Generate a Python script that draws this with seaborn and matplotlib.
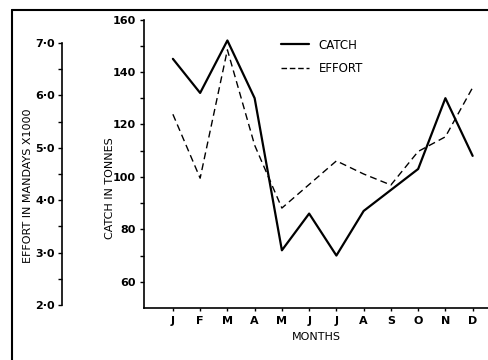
import matplotlib
matplotlib.use("Agg")
import matplotlib.pyplot as plt
from matplotlib.lines import Line2D
import seaborn as sns
import pandas as pd
import numpy as np

months = ["J", "F", "M", "A", "M", "J", "J", "A", "S", "O", "N", "D"]
catch = [145, 132, 152, 130, 72, 86, 70, 87, 95, 103, 130, 108]
effort = [5.64, 4.42, 6.87, 5.05, 3.85, 4.3, 4.75, 4.5, 4.29, 4.93, 5.21, 6.15]
catch_ticks = [60, 80, 100, 120, 140, 160]
effort_ticks = [2.0, 3.0, 4.0, 5.0, 6.0, 7.0]

sns.set_style("ticks")
plt.rcParams["font.family"] = ["DejaVu Sans"]
plt.rcParams["font.weight"] = "bold"
plt.rcParams["text.color"] = "black"
plt.rcParams["axes.labelcolor"] = "black"
plt.rcParams["xtick.color"] = "black"
plt.rcParams["ytick.color"] = "black"
plt.rcParams["axes.edgecolor"] = "black"

W, H = 489, 360
fig = plt.figure(figsize=(W / 100, H / 100), dpi=100)
fig.patch.set_facecolor("white")

# main axes: left spine at x=144, bottom at y=308, top (160) at y=19.5
ax = fig.add_axes([144 / W, (H - 308) / H, (W - 144) / W, (308 - 19.5) / H])
ax.set_facecolor("white")
df = pd.DataFrame({"x": np.arange(len(months)), "catch": catch, "effort": effort})

sns.lineplot(data=df, x="x", y="catch", ax=ax, color="black", lw=1.6,
             label="CATCH", legend=False)
ax.set_xlim(-1.06, 11.6)
ax.set_ylim(50, 160)
ax.set_xticks(np.arange(len(months)))
ax.set_xticklabels(months)
ax.set_yticks(catch_ticks)
ax.set_yticks([70, 90, 110, 130, 150], minor=True)
ax.set_yticklabels([str(t) for t in catch_ticks])
for s in ["top", "right"]:
    ax.spines[s].set_visible(False)
for s in ["left", "bottom"]:
    ax.spines[s].set_linewidth(1.2)
ax.tick_params(axis="both", which="both", length=3, width=1.0, labelsize=8,
               color="black", labelcolor="black", pad=3)
ax.tick_params(axis="x", length=2, pad=4)
ax.set_xlabel("MONTHS", fontsize=8, labelpad=4, fontweight="normal")
ax.set_ylabel("")

# twin axes for effort
ax2 = ax.twinx()
lo = 2 - 3 / 52.4
hi = 2 + (305 - 19.5) / 52.4
sns.lineplot(data=df, x="x", y="effort", ax=ax2, color="black", lw=1.0,
             label="EFFORT", legend=False)
ax2.lines[0].set_dashes([5, 3])
ax2.set_ylim(lo, hi)
ax2.set_xlim(-1.06, 11.6)
ax2.yaxis.set_ticks_position("left")
ax2.yaxis.set_label_position("left")
for s in ["top", "right", "bottom"]:
    ax2.spines[s].set_visible(False)
ax2.spines["left"].set_visible(True)
ax2.spines["left"].set_position(("axes", -82 / 345))
ax2.spines["left"].set_bounds(2.0, 7.0)
ax2.spines["left"].set_linewidth(1.2)
ax2.set_yticks(effort_ticks)
ax2.set_yticks([2.5, 3.5, 4.5, 5.5, 6.5], minor=True)
ax2.set_yticklabels([f"{t:.1f}".replace(".", "·") for t in effort_ticks])
ax2.tick_params(axis="y", which="both", length=3, width=1.0, labelsize=8, pad=2)
ax2.set_ylabel("")

# axis titles
fig.text(110 / W, 1 - 188 / H, "CATCH IN TONNES", rotation=90, ha="center",
         va="center", fontsize=8, fontweight="normal")
fig.text(28 / W, 1 - 186 / H, "EFFORT IN MANDAYS X1000", rotation=90,
         ha="center", va="center", fontsize=8, fontweight="normal")

# legend
h1 = Line2D([], [], color="black", lw=1.6)
h2 = Line2D([], [], color="black", lw=1.0, dashes=[4, 2])
leg = ax.legend([h1, h2], ["CATCH", "EFFORT"], loc="upper left",
                bbox_to_anchor=((270 - 144) / 345, (308 - 28) / 288.5),
                frameon=False, handlelength=2.4, labelspacing=0.9,
                prop={"size": 8.5, "weight": "normal"})

# frame border
fig.add_artist(Line2D([12 / W, 12 / W], [0, 1 - 10 / H], transform=fig.transFigure,
                      color="black", lw=1.5))
fig.add_artist(Line2D([12 / W, 1], [1 - 10 / H, 1 - 10 / H], transform=fig.transFigure,
                      color="black", lw=1.5))

fig.savefig("out.png", dpi=100, facecolor="white")
